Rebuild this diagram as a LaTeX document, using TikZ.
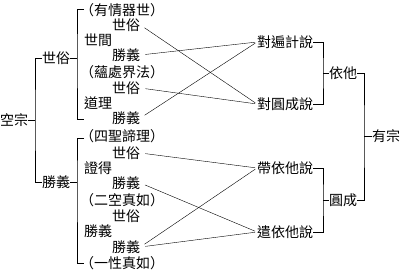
\documentclass[tikz,border=0pt]{standalone}
\usepackage{fontspec}
\newfontfamily\cjk{Noto Sans CJK TC}
\usetikzlibrary{positioning}

\begin{document}
\begin{tikzpicture}[x=1pt,y=-1pt,
  every node/.style={font=\cjk\fontsize{14pt}{14pt}\selectfont, inner sep=0pt, anchor=west},
  link/.style={shorten <=5pt, shorten >=2pt}]
\useasboundingbox (0,0) rectangle (402,274);

% Root
\node (kong) at (0,120) {空宗};
\node (sy) at (42,58) {世俗};
\node (sh) at (42,182) {勝義};
\coordinate (b0) at (35,120);
\draw (kong.east) -- (b0);
\draw (sy.west) -| (b0) |- (sh.west);

% Upper group
\node (p1) at (80,10) {（有情器世）};
\node (s1) at (112,25) {世俗};
\node at (84,40) {世間};
\node (g1) at (112,55) {勝義};
\node (p2) at (80,72) {（蘊處界法）};
\node (s2) at (112,88) {世俗};
\node at (84,103) {道理};
\node (g2) at (112,118) {勝義};
\coordinate (b1) at (77,58);
\coordinate (t1) at (84,9);
\coordinate (t2) at (84,119);
\draw (sy.east) -- (b1);
\draw (t1) -| (b1) |- (t2);

% Lower group
\node (p3) at (80,136) {（四聖諦理）};
\node (s3) at (112,153) {世俗};
\node at (84,168) {證得};
\node (g3) at (112,183) {勝義};
\node (p4) at (80,200) {（二空真如）};
\node (s4) at (112,216) {世俗};
\node at (84,231) {勝義};
\node (g4) at (112,247) {勝義};
\node (p5) at (80,263) {（一性真如）};
\coordinate (b2) at (77,182);
\coordinate (t3) at (84,138);
\coordinate (t4) at (84,263);
\draw (sh.east) -- (b2);
\draw (t3) -| (b2) |- (t4);

% Right side
\node (dbj) at (257,42) {對遍計說};
\node (dyc) at (257,104) {對圓成說};
\node (dyt) at (257,168) {帶依他說};
\node (qyt) at (257,232) {遣依他說};
\node (yita) at (329,73) {依他};
\node (yuan) at (329,200) {圓成};
\node (you) at (372,136) {有宗};
\coordinate (r1) at (323,73);
\coordinate (r2) at (323,200);
\coordinate (r3) at (364,136);
\draw (dbj.east) -| (r1) |- (dyc.east);
\draw (r1) -- (yita.west);
\draw (dyt.east) -| (r2) |- (qyt.east);
\draw (r2) -- (yuan.west);
\draw (yita.east) -| (r3) |- (yuan.east);
\draw (r3) -- (you.west);

% Links
\draw[link] (s1.east) -- (dyc.west);
\draw[link] (g1.east) -- (dbj.west);
\draw[link] (s2.east) -- (dyc.west);
\draw[link] (g2.east) -- (dbj.west);
\draw[link] (s3.east) -- (dyt.west);
\draw[link] (g3.east) -- (qyt.west);
\draw[link] (g4.east) -- (dyt.west);
\draw[link] (g4.east) -- (qyt.west);

\end{tikzpicture}
\end{document}
